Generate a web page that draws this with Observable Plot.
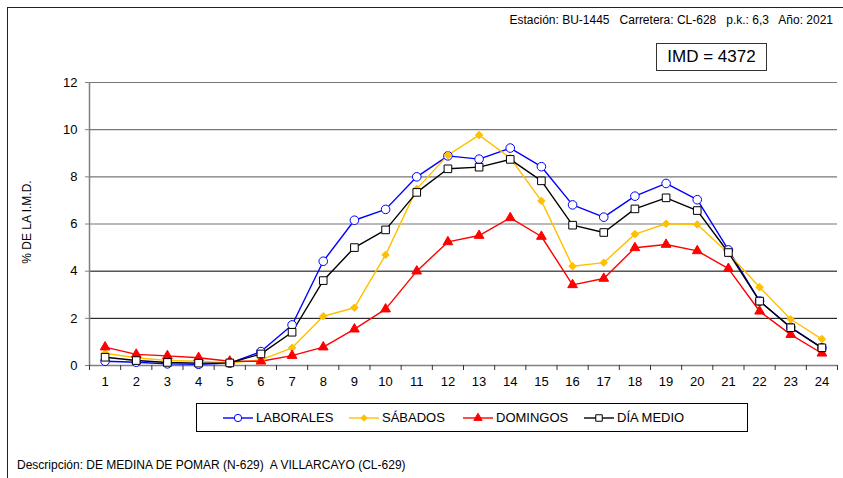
<!DOCTYPE html>
<html>
<head>
<meta charset="utf-8">
<script src="https://cdn.jsdelivr.net/npm/d3@7"></script>
<script src="https://cdn.jsdelivr.net/npm/@observablehq/plot@0.6"></script>
<style>
  html, body { margin: 0; padding: 0; background: #fff; }
  #wrap { position: relative; width: 843px; height: 478px; overflow: hidden; font-family: "Liberation Sans", Arial, sans-serif; color: #000; }
  #frame { position: absolute; left: 7px; top: 7px; width: 850px; height: 480px; border-left: 1.5px solid #222; border-top: 1.5px solid #222; }
  #chart { position: absolute; left: 0; top: 0; }
  #header { position: absolute; right: 10px; top: 13px; font-size: 12px; white-space: pre; }
  #imd { position: absolute; left: 656px; top: 43px; width: 109px; height: 26px; border: 1px solid #333; font-size: 17px; text-align: center; line-height: 26px; }
  #ylabel { position: absolute; left: 27px; top: 222px; transform: translate(-50%, -50%) rotate(-90deg); font-size: 12px; white-space: nowrap; }
  #legend { position: absolute; left: 196px; top: 403px; width: 550px; height: 27px; border: 1px solid #000; font-size: 13px; }
  .item { position: absolute; top: 0; height: 27px; display: flex; align-items: center; }
  .item svg { margin-right: 3px; }
  #desc { position: absolute; left: 17px; top: 458px; font-size: 12px; white-space: pre; }
</style>
</head>
<body>
<div id="wrap">
  <div id="frame"></div>
  <div id="chart"></div>
  <div id="header"></div>
  <div id="imd"></div>
  <div id="ylabel">% DE LA I.M.D.</div>
  <div id="legend"></div>
  <div id="desc"></div>
</div>
<script>
const hours = d3.range(1, 25);
const laborales = [0.18, 0.14, 0.07, 0.05, 0.10, 0.59, 1.72, 4.42, 6.16, 6.62, 8.00, 8.89, 8.75, 9.22, 8.43, 6.81, 6.29, 7.18, 7.72, 7.03, 4.90, 2.73, 1.62, 0.75];
const sabados   = [0.52, 0.33, 0.21, 0.18, 0.10, 0.24, 0.75, 2.09, 2.45, 4.69, 7.49, 8.92, 9.77, 8.80, 6.98, 4.21, 4.36, 5.57, 6.01, 5.98, 4.76, 3.32, 1.96, 1.12];
const domingos  = [0.78, 0.47, 0.41, 0.33, 0.18, 0.18, 0.42, 0.78, 1.54, 2.39, 4.00, 5.24, 5.51, 6.26, 5.47, 3.42, 3.69, 4.99, 5.13, 4.86, 4.11, 2.30, 1.31, 0.52];
const diaMedio  = [0.35, 0.21, 0.13, 0.10, 0.11, 0.49, 1.41, 3.60, 5.00, 5.75, 7.34, 8.34, 8.41, 8.74, 7.83, 5.95, 5.64, 6.64, 7.11, 6.57, 4.79, 2.73, 1.60, 0.75];
const seriesNames = ["LABORALES", "SÁBADOS", "DOMINGOS", "DÍA MEDIO"];
const yTicks = [0, 2, 4, 6, 8, 10, 12];
const gridDark = [2, 4];
const gridGray = [6, 8, 10, 12];
const headerText = "Estación: BU-1445   Carretera: CL-628   p.k.: 6,3   Año: 2021";
const imdText = "IMD = 4372";
const descText = "Descripción: DE MEDINA DE POMAR (N-629)  A VILLARCAYO (CL-629)";

const styles = [
  {stroke: "#0000ff", symbol: "circle", fill: "#fff", r: 4.3, sw: 1},
  {stroke: "#ffc000", symbol: "diamond2", fill: "#ffc000", r: 3.4, sw: 1},
  {stroke: "#ff0000", symbol: "triangle", fill: "#ff0000", r: 3.6, sw: 1},
  {stroke: "#000000", symbol: "square", fill: "#fff", r: 4.3, sw: 1}
];
const allValues = [laborales, sabados, domingos, diaMedio];
const boundaries = d3.range(0.5, 25, 1);

const marks = [
  Plot.ruleY(gridGray, {stroke: "#777", strokeWidth: 1.2}),
  Plot.ruleY(gridDark, {stroke: "#000", strokeWidth: 1}),
  Plot.ruleY([0], {stroke: "#808080", strokeWidth: 1.5}),
  Plot.ruleX([0.5], {stroke: "#808080", strokeWidth: 1.5}),
  Plot.axisY(yTicks, {tickSize: 4, tickPadding: 8, fontSize: 13, label: null, stroke: "#808080"}),
  Plot.axisX(hours, {tickSize: 0, tickPadding: 11, fontSize: 13, label: null}),
  Plot.axisX(boundaries, {tickSize: 5, tickFormat: () => "", label: null, stroke: "#333"})
];
allValues.forEach((vals, i) => {
  const s = styles[i];
  const data = hours.map((h, j) => ({h, v: vals[j]}));
  marks.push(Plot.line(data, {x: "h", y: "v", stroke: s.stroke, strokeWidth: 1.4}));
});
allValues.forEach((vals, i) => {
  const s = styles[i];
  const data = hours.map((h, j) => ({h, v: vals[j]}));
  marks.push(Plot.dot(data, {x: "h", y: "v", symbol: s.symbol, r: s.r, fill: s.fill, stroke: s.stroke, strokeWidth: s.sw}));
});

const chart = Plot.plot({
  width: 843,
  height: 400,
  marginLeft: 89,
  marginRight: 6,
  marginTop: 82,
  marginBottom: 35,
  style: {fontFamily: "'Liberation Sans', Arial, sans-serif", fontSize: "13px", color: "#000", background: "transparent", overflow: "visible"},
  x: {domain: [0.5, 24.5]},
  y: {domain: [0, 12]},
  marks
});
document.getElementById("chart").appendChild(chart);

document.getElementById("header").textContent = headerText;
document.getElementById("imd").textContent = imdText;
document.getElementById("desc").textContent = descText;

const legendPos = [26, 152, 266, 387];
const legend = document.getElementById("legend");
seriesNames.forEach((name, i) => {
  const s = styles[i];
  const div = document.createElement("div");
  div.className = "item";
  div.style.left = legendPos[i] + "px";
  const sym = d3.symbol(d3.symbolsFill ? (s.symbol === "circle" ? d3.symbolCircle : s.symbol === "diamond2" ? d3.symbolDiamond2 : s.symbol === "triangle" ? d3.symbolTriangle : d3.symbolSquare) : d3.symbolCircle, Math.PI * (s.r * 0.85) ** 2)();
  div.innerHTML = `<svg width="30" height="12"><line x1="0" x2="30" y1="6" y2="6" stroke="${s.stroke}" stroke-width="1.4"/><path transform="translate(15,6)" d="${sym}" fill="${s.fill}" stroke="${s.stroke}"/></svg><span>${name}</span>`;
  legend.appendChild(div);
});
</script>
</body>
</html>
